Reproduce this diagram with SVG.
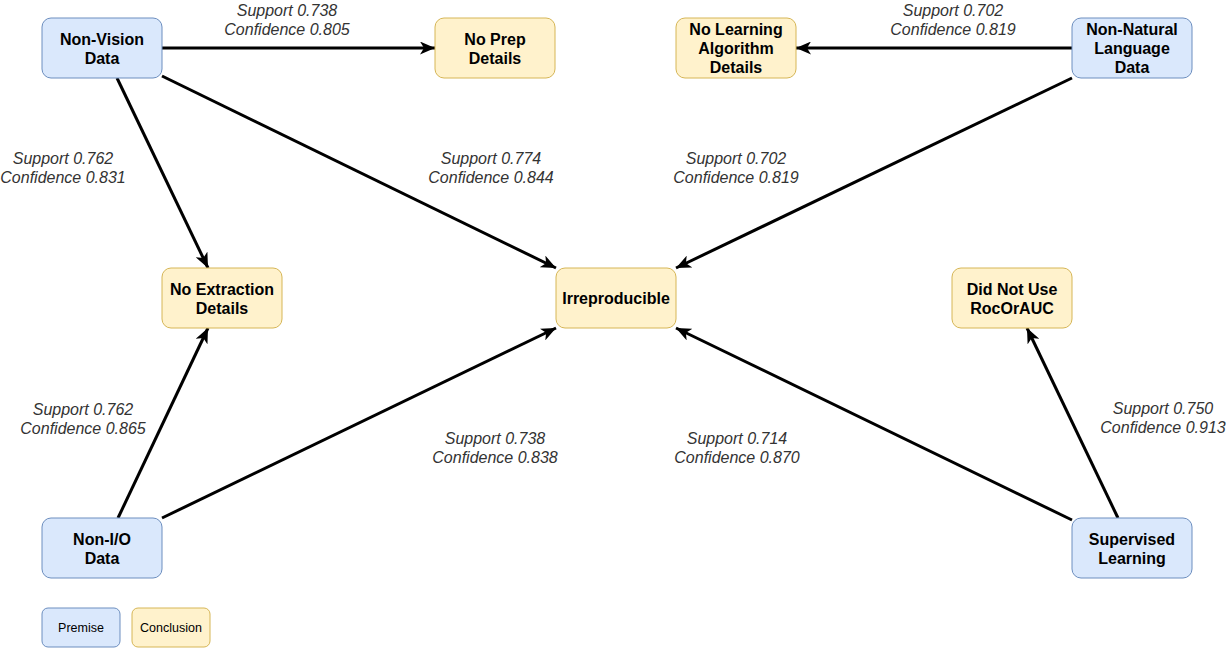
<svg xmlns="http://www.w3.org/2000/svg" width="1226" height="648" viewBox="0 0 1226 648">
<style>
.p{fill:#dae8fc;stroke:#6c8ebf;stroke-width:1}
.c{fill:#fff2cc;stroke:#d6b656;stroke-width:1}
.t{font-family:"Liberation Sans",Arial,sans-serif;font-size:16px;font-weight:bold;fill:#000;text-anchor:middle}
.s{font-family:"Liberation Sans",Arial,sans-serif;font-size:12.5px;fill:#000;text-anchor:middle}
.l{font-family:"Liberation Sans",Arial,sans-serif;font-size:16px;font-style:italic;fill:#333;text-anchor:middle}
.e{stroke:#000;stroke-width:3;fill:none;marker-end:url(#a)}
</style>
<defs>
<marker id="a" markerUnits="userSpaceOnUse" viewBox="0 0 15 13" refX="15" refY="6.5" markerWidth="15" markerHeight="13" orient="auto">
<path d="M0,0 L15,6.5 L0,13 L4,6.5 z" fill="#000"/>
</marker>
</defs>
<rect width="1226" height="648" fill="#fff"/>
<g id="connectors">
<line class="e" x1="162" y1="48" x2="435" y2="48"/>
<line class="e" x1="117" y1="78" x2="208" y2="268"/>
<line class="e" x1="162" y1="76" x2="556" y2="268"/>
<line class="e" x1="1072" y1="48" x2="796" y2="48"/>
<line class="e" x1="1072" y1="78" x2="676" y2="268"/>
<line class="e" x1="118" y1="518" x2="208" y2="328"/>
<line class="e" x1="162" y1="518" x2="556" y2="328"/>
<line class="e" x1="1072" y1="520" x2="676" y2="328"/>
<line class="e" x1="1118" y1="518" x2="1027" y2="328"/>
</g>
<g id="labels">
<text class="l" x="287" y="16">Support 0.738</text><text class="l" x="287" y="35">Confidence 0.805</text>
<text class="l" x="953" y="16">Support 0.702</text><text class="l" x="953" y="35">Confidence 0.819</text>
<text class="l" x="63" y="164">Support 0.762</text><text class="l" x="63" y="183">Confidence 0.831</text>
<text class="l" x="491" y="164">Support 0.774</text><text class="l" x="491" y="183">Confidence 0.844</text>
<text class="l" x="736" y="164">Support 0.702</text><text class="l" x="736" y="183">Confidence 0.819</text>
<text class="l" x="83" y="415">Support 0.762</text><text class="l" x="83" y="434">Confidence 0.865</text>
<text class="l" x="495" y="444">Support 0.738</text><text class="l" x="495" y="463">Confidence 0.838</text>
<text class="l" x="737" y="444">Support 0.714</text><text class="l" x="737" y="463">Confidence 0.870</text>
<text class="l" x="1163" y="414">Support 0.750</text><text class="l" x="1163" y="433">Confidence 0.913</text>
</g>
<g id="non-vision"><rect class="p" x="42" y="18" width="120" height="60" rx="9"/><text class="t" x="102" y="45">Non-Vision</text><text class="t" x="102" y="64">Data</text></g>
<g id="no-prep"><rect class="c" x="435" y="18" width="120" height="60" rx="9"/><text class="t" x="495" y="45">No Prep</text><text class="t" x="495" y="64">Details</text></g>
<g id="no-learning"><rect class="c" x="676" y="18" width="120" height="60" rx="9"/><text class="t" x="736" y="35">No Learning</text><text class="t" x="736" y="54">Algorithm</text><text class="t" x="736" y="73">Details</text></g>
<g id="non-natural"><rect class="p" x="1072" y="18" width="120" height="60" rx="9"/><text class="t" x="1132" y="35">Non-Natural</text><text class="t" x="1132" y="54">Language</text><text class="t" x="1132" y="73">Data</text></g>
<g id="no-extraction"><rect class="c" x="162" y="268" width="120" height="60" rx="9"/><text class="t" x="222" y="295">No Extraction</text><text class="t" x="222" y="314">Details</text></g>
<g id="irreproducible"><rect class="c" x="556" y="268" width="120" height="60" rx="9"/><text class="t" x="616" y="304">Irreproducible</text></g>
<g id="did-not-use"><rect class="c" x="952" y="268" width="120" height="60" rx="9"/><text class="t" x="1012" y="295">Did Not Use</text><text class="t" x="1012" y="314">RocOrAUC</text></g>
<g id="non-io"><rect class="p" x="42" y="518" width="120" height="60" rx="9"/><text class="t" x="102" y="545">Non-I/O</text><text class="t" x="102" y="564">Data</text></g>
<g id="supervised"><rect class="p" x="1072" y="518" width="120" height="60" rx="9"/><text class="t" x="1132" y="545">Supervised</text><text class="t" x="1132" y="564">Learning</text></g>
<g id="legend-premise"><rect class="p" x="42" y="608" width="78" height="39" rx="6"/><text class="s" x="81" y="632">Premise</text></g>
<g id="legend-conclusion"><rect class="c" x="132" y="608" width="78" height="39" rx="6"/><text class="s" x="171" y="632">Conclusion</text></g>
</svg>
